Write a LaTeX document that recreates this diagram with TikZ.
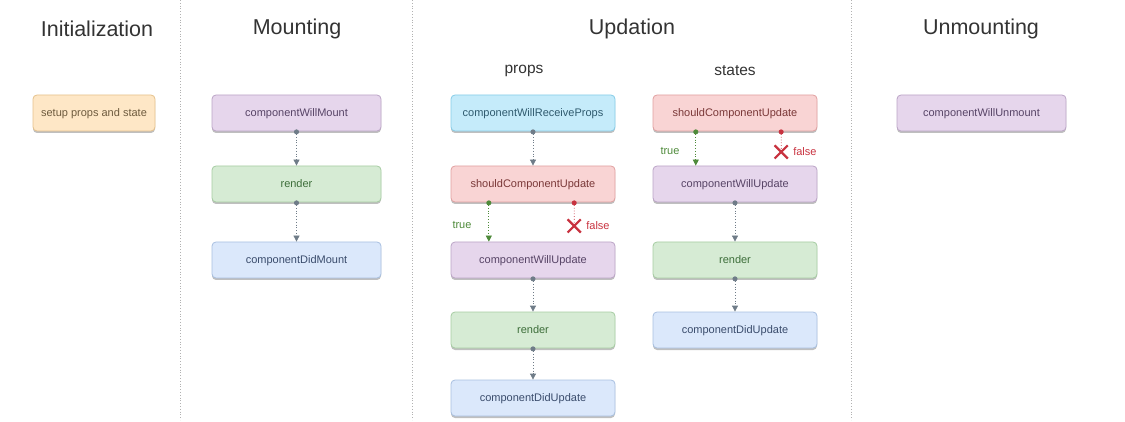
\documentclass[tikz,border=0pt]{standalone}
\usepackage{fontspec}
\setmainfont{Liberation Sans}
\usetikzlibrary{arrows.meta,shadows,shapes.misc,calc}
\definecolor{orfill}{HTML}{FEE7C6}\definecolor{ordraw}{HTML}{E5C28C}\definecolor{ortext}{HTML}{6E5B3E}
\definecolor{pufill}{HTML}{E6D6EC}\definecolor{pudraw}{HTML}{BBA4C6}\definecolor{putext}{HTML}{574466}
\definecolor{grfill}{HTML}{D6EBD4}\definecolor{grdraw}{HTML}{A6CCA2}\definecolor{grtext}{HTML}{3D6E3A}
\definecolor{blfill}{HTML}{DBE8FB}\definecolor{bldraw}{HTML}{A8C0E0}\definecolor{bltext}{HTML}{3A4C6C}
\definecolor{cyfill}{HTML}{C5EBFA}\definecolor{cydraw}{HTML}{86CCE8}\definecolor{cytext}{HTML}{2F5A6E}
\definecolor{rdfill}{HTML}{F9D4D4}\definecolor{rddraw}{HTML}{E0A0A0}\definecolor{rdtext}{HTML}{7A3838}
\definecolor{linkgray}{HTML}{6F7C88}
\definecolor{truegreen}{HTML}{4E8A3A}
\definecolor{falsered}{HTML}{C8323F}
\tikzset{
    stagebox/.style={rectangle, rounded corners=4pt, draw=#1draw, fill=#1fill,
      text=#1text, line width=0.8pt, font=\fontsize{11}{13}\selectfont,
      minimum height=36pt, inner sep=2pt, text depth=0pt,
      drop shadow={shadow xshift=0pt, shadow yshift=-2pt, opacity=.25, fill=black}},
    title/.style={font=\fontsize{21.5}{25}\selectfont, text=black!80},
    subtitle/.style={font=\fontsize{15.5}{18}\selectfont, text=black!80},
    link/.style={draw=linkgray, dotted, line width=0.8pt, shorten <=-2pt,
      {Circle[length=5pt,fill=linkgray]}-{Triangle[length=6pt,width=6pt,fill=linkgray]}},
    divider/.style={draw=black!30, dotted, line width=0.8pt},
    nope/.style={cross out, draw=falsered, line width=2.2pt, minimum size=11pt, inner sep=0pt},
    branchlabel/.style={font=\fontsize{11}{13}\selectfont},
}
\begin{document}
\begin{tikzpicture}[x=1pt,y=-1pt]
\useasboundingbox (0,0) rectangle (1125,422);

% phase dividers
\coordinate (d1a) at (180,0); \coordinate (d1b) at (180,420);
\coordinate (d2a) at (412,0); \coordinate (d2b) at (412,420);
\coordinate (d3a) at (851,0); \coordinate (d3b) at (851,420);
\draw[divider] (d1a) -- (d1b);
\draw[divider] (d2a) -- (d2b);
\draw[divider] (d3a) -- (d3b);

% titles
\node[title] (tinit) at (97,29) {Initialization};
\node[title] (tmount) at (297,29) {Mounting};
\node[title] (tupd) at (632,29) {Updation};
\node[title] (tunm) at (981,29) {Unmounting};
\node[subtitle] (tprops) at (524,71) {props};
\node[subtitle] (tstates) at (735,71) {states};

% initialization
\node[stagebox=or, minimum width=122pt] (i1) at (94,113) {setup props and state};

% mounting
\node[stagebox=pu, minimum width=169pt] (m1) at (296.5,113) {componentWillMount};
\node[stagebox=gr, minimum width=169pt] (m2) at (296.5,184) {render};
\node[stagebox=bl, minimum width=169pt] (m3) at (296.5,260) {componentDidMount};
\draw[link] (m1.south) -- (m2.north);
\draw[link] (m2.south) -- (m3.north);

% updation: props
\node[stagebox=cy, minimum width=164pt] (p1) at (533,113) {componentWillReceiveProps};
\node[stagebox=rd, minimum width=164pt] (p2) at (533,184) {shouldComponentUpdate};
\node[stagebox=pu, minimum width=164pt] (p3) at (533,260) {componentWillUpdate};
\node[stagebox=gr, minimum width=164pt] (p4) at (533,330) {render};
\node[stagebox=bl, minimum width=164pt] (p5) at (533,398) {componentDidUpdate};
\draw[link] (p1.south) -- (p2.north);
\coordinate (pt) at ($(p2.south west)!0.232!(p2.south east)$);
\coordinate (pf) at ($(p2.south west)!0.75!(p2.south east)$);
\draw[link, draw=truegreen, {Circle[length=5pt,fill=truegreen]}-{Triangle[length=6pt,width=6pt,fill=truegreen]}]
  (pt) -- (pt |- p3.north);
\node[nope] (px) at ($(pf)!0.6!(pf |- p3.north)$) {};
\draw[draw=falsered, dotted, line width=0.8pt, shorten <=-2pt, {Circle[length=5pt,fill=falsered]}-]
  (pf) -- (px.center);
\node[branchlabel, text=truegreen] (ptrue) at (462,225) {true};
\node[branchlabel, text=falsered, right=2pt] (pfalse) at (px.east) {false};
\draw[link] (p3.south) -- (p4.north);
\draw[link] (p4.south) -- (p5.north);

% updation: states
\node[stagebox=rd, minimum width=164pt] (s1) at (735,113) {shouldComponentUpdate};
\node[stagebox=pu, minimum width=164pt] (s2) at (735,184) {componentWillUpdate};
\node[stagebox=gr, minimum width=164pt] (s3) at (735,260) {render};
\node[stagebox=bl, minimum width=164pt] (s4) at (735,330) {componentDidUpdate};
\coordinate (st) at ($(s1.south west)!0.262!(s1.south east)$);
\coordinate (sf) at ($(s1.south west)!0.78!(s1.south east)$);
\draw[link, draw=truegreen, {Circle[length=5pt,fill=truegreen]}-{Triangle[length=6pt,width=6pt,fill=truegreen]}]
  (st) -- (st |- s2.north);
\node[nope] (sx) at ($(sf)!0.6!(sf |- s2.north)$) {};
\draw[draw=falsered, dotted, line width=0.8pt, shorten <=-2pt, {Circle[length=5pt,fill=falsered]}-]
  (sf) -- (sx.center);
\node[branchlabel, text=truegreen] (strue) at (670,151) {true};
\node[branchlabel, text=falsered, right=2pt] (sfalse) at (sx.east) {false};
\draw[link] (s2.south) -- (s3.north);
\draw[link] (s3.south) -- (s4.north);

% unmounting
\node[stagebox=pu, minimum width=169pt] (u1) at (981.5,113) {componentWillUnmount};
\end{tikzpicture}
\end{document}
